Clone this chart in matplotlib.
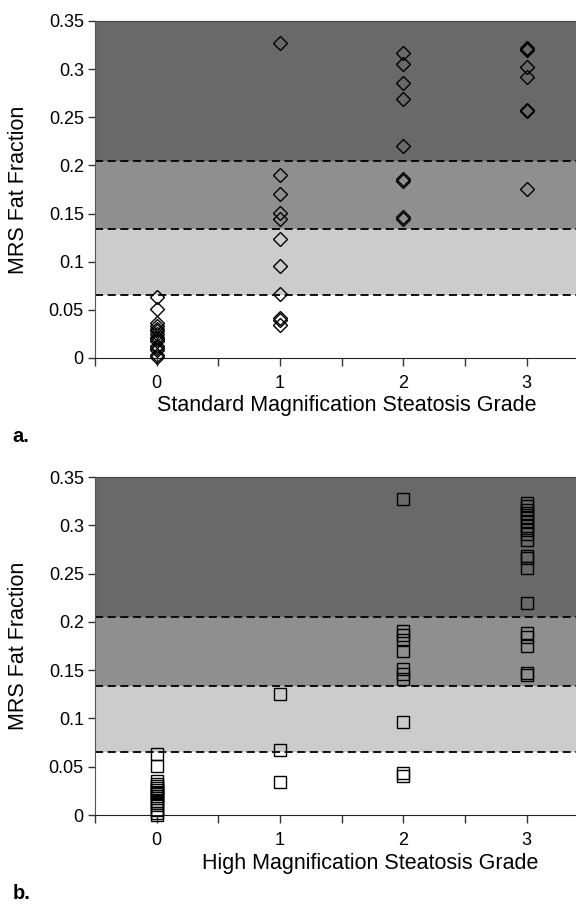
import matplotlib
matplotlib.use('Agg')
from matplotlib import pyplot as plt
from matplotlib.ticker import MultipleLocator

plt.rcParams['font.family'] = ['Liberation Sans', 'DejaVu Sans']

# grade categories
grades = [0, 1, 2, 3]
grade_labels = ['0', '1', '2', '3']

# steatosis band limits (MRS fat fraction)
band_edges = [0.065, 0.134, 0.205, 0.35]
band_colors = ['#cccccc', '#8f8f8f', '#696969']

# a. standard magnification
std_g0 = [0.063, 0.051, 0.036, 0.033, 0.030, 0.028, 0.025, 0.022, 0.020, 0.018, 0.012, 0.010, 0.008, 0.003, 0.001]
std_g1 = [0.327, 0.190, 0.170, 0.151, 0.144, 0.124, 0.096, 0.066, 0.041, 0.039, 0.034]
std_g2 = [0.317, 0.305, 0.286, 0.269, 0.220, 0.186, 0.184, 0.146, 0.144]
std_g3 = [0.322, 0.321, 0.320, 0.302, 0.292, 0.258, 0.256, 0.175]

# b. high magnification
high_g0 = [0.063, 0.051, 0.035, 0.032, 0.030, 0.028, 0.026, 0.024, 0.022, 0.020, 0.018, 0.015, 0.012, 0.010, 0.005, 0.002, 0.000]
high_g1 = [0.125, 0.067, 0.034]
high_g2 = [0.327, 0.191, 0.186, 0.181, 0.170, 0.151, 0.146, 0.141, 0.096, 0.043, 0.040]
high_g3 = [0.323, 0.320, 0.316, 0.313, 0.309, 0.304, 0.299, 0.295, 0.291, 0.285, 0.268, 0.266, 0.256,
           0.220, 0.188, 0.184, 0.175, 0.147, 0.145]

std_data = [std_g0, std_g1, std_g2, std_g3]
high_data = [high_g0, high_g1, high_g2, high_g3]


def draw_panel(ax, data, marker, ms, xlabel, xlabel_x, panel_letter):
    for i in range(3):
        ax.axhspan(band_edges[i], band_edges[i + 1], color=band_colors[i], lw=0, zorder=0)
    for edge in band_edges[:3]:
        ax.axhline(edge, color='black', lw=1.3, dashes=(4.5, 2.5), zorder=1)
    for g, vals in zip(grades, data):
        ax.plot([g] * len(vals), vals, linestyle='none', marker=marker, ms=ms,
                mfc='none', mec='black', mew=1.0, zorder=3, clip_on=False)

    ax.set_xlim(-0.5, 3.401)
    ax.set_ylim(0, 0.35)
    ax.set_yticks([0, 0.05, 0.1, 0.15, 0.2, 0.25, 0.3, 0.35])
    ax.set_yticklabels(['0', '0.05', '0.1', '0.15', '0.2', '0.25', '0.3', '0.35'])
    ax.set_xticks(grades)
    ax.set_xticklabels(grade_labels)
    ax.xaxis.set_minor_locator(MultipleLocator(0.5))
    ax.tick_params(axis='both', which='both', direction='out', labelsize=13, colors='#333333',
                   labelcolor='black')
    ax.tick_params(axis='x', which='both', length=6, width=1, pad=6)
    ax.tick_params(axis='y', length=5, width=1, pad=3)

    ax.spines['right'].set_visible(False)
    ax.spines['top'].set_color('#444444')
    ax.spines['left'].set_color('#555555')
    ax.spines['bottom'].set_color('#222222')

    ax.set_ylabel('MRS Fat Fraction', fontsize=15.5, va='center')
    ax.yaxis.set_label_coords(-0.158, 0.5)
    ax.set_xlabel(xlabel, fontsize=15.5, va='center')
    ax.xaxis.set_label_coords(xlabel_x, -0.142)

    ax.text(-0.172, -0.232, panel_letter, transform=ax.transAxes, fontsize=14.5,
            fontweight='bold', family=['Liberation Sans Narrow', 'Liberation Sans'],
            va='center', ha='left')


fig = plt.figure(figsize=(5.76, 9.09), dpi=100)
ax1 = fig.add_axes([0.1649, 0.6062, 0.8351, 0.3707])
ax2 = fig.add_axes([0.1649, 0.1034, 0.8351, 0.3718])

draw_panel(ax1, std_data, 'D', 7.3, 'Standard Magnification Steatosis Grade', 0.524, 'a.')
draw_panel(ax2, high_data, 's', 8.8, 'High Magnification Steatosis Grade', 0.572, 'b.')

fig.savefig('out.png', dpi=100)
